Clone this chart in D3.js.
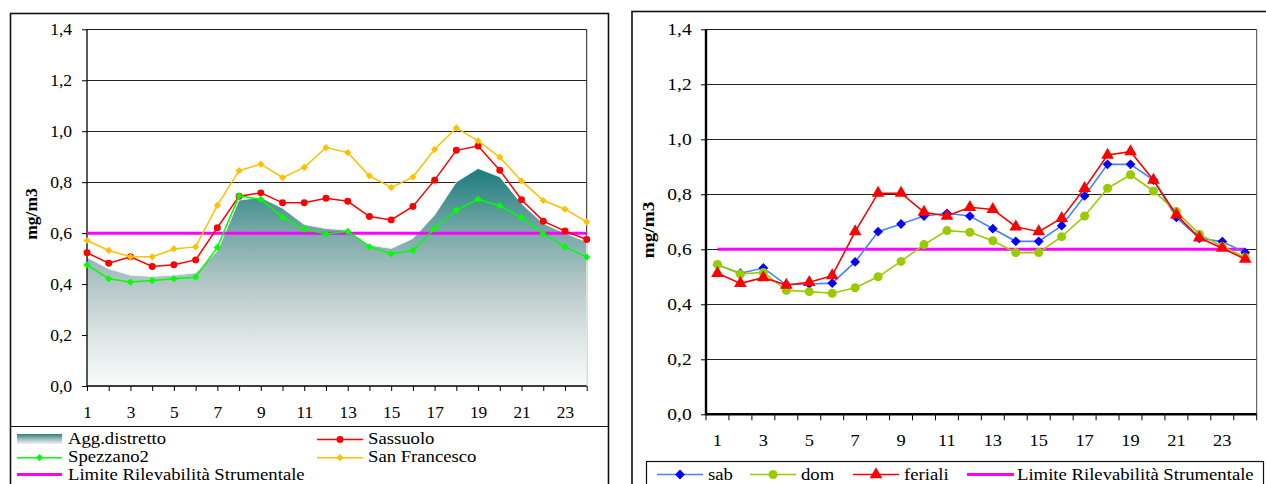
<!DOCTYPE html>
<html><head><meta charset="utf-8">
<script src="https://cdn.jsdelivr.net/npm/d3@7"></script>
<style>
html,body{margin:0;padding:0;background:#fff;}
svg{display:block;}
svg text{font-family:'Liberation Serif','Times New Roman',Times,serif !important;fill:#000;}
</style></head>
<body>
<svg id="c" width="1266" height="484"></svg>
<script>
// ---------- DATA ----------
const hours = [1,2,3,4,5,6,7,8,9,10,11,12,13,14,15,16,17,18,19,20,21,22,23,24];
const hourLabels = ["1","3","5","7","9","11","13","15","17","19","21","23"];
const yTicks = [0,0.2,0.4,0.6,0.8,1.0,1.2,1.4];
const yTickLabels = ["0,0","0,2","0,4","0,6","0,8","1,0","1,2","1,4"];
const limite = 0.6;

// left panel
const aggDistretto = [0.505,0.46,0.435,0.43,0.435,0.444,0.53,0.73,0.74,0.698,0.634,0.618,0.612,0.553,0.54,0.579,0.671,0.801,0.854,0.821,0.716,0.638,0.60,0.566];
const sassuolo = [0.523,0.482,0.507,0.469,0.476,0.495,0.621,0.745,0.758,0.719,0.719,0.737,0.725,0.665,0.652,0.705,0.808,0.925,0.942,0.847,0.731,0.647,0.608,0.575];
const spezzano2 = [0.475,0.421,0.408,0.414,0.421,0.427,0.544,0.746,0.733,0.663,0.616,0.597,0.607,0.546,0.519,0.532,0.617,0.690,0.733,0.707,0.661,0.597,0.546,0.506];
const sanFrancesco = [0.571,0.532,0.507,0.507,0.538,0.546,0.709,0.845,0.871,0.818,0.858,0.936,0.916,0.825,0.779,0.820,0.929,1.013,0.962,0.898,0.805,0.728,0.694,0.644];

// right panel
const sab = [0.543,0.513,0.532,0.471,0.474,0.477,0.554,0.664,0.692,0.721,0.731,0.721,0.675,0.629,0.629,0.686,0.794,0.909,0.909,0.852,0.716,0.640,0.628,0.588];
const dom = [0.545,0.510,0.516,0.451,0.446,0.440,0.460,0.500,0.556,0.617,0.668,0.662,0.631,0.588,0.588,0.646,0.721,0.822,0.871,0.812,0.737,0.655,0.610,0.571];
const feriali = [0.513,0.476,0.497,0.470,0.480,0.504,0.664,0.804,0.804,0.735,0.721,0.753,0.745,0.682,0.664,0.713,0.822,0.943,0.955,0.852,0.725,0.642,0.604,0.564];

const leftLegend = ["Agg.distretto","Sassuolo","Spezzano2","San Francesco","Limite Rilevabilità Strumentale"];
const rightLegend = ["sab","dom","feriali","Limite Rilevabilità Strumentale"];
const yTitle = "mg/m3";

// ---------- DRAW ----------
const svg = d3.select("#c");
const defs = svg.append("defs");
const FONT = "'Liberation Serif','Times New Roman',Times,serif";

function txt(parent, x, y, s, o) {
  o = o || {};
  const g = parent.append("g").attr("transform", `translate(${x},${y})` + (o.rot ? ` rotate(${o.rot})` : "") + ` scale(${o.sx||1.1},1)`);
  return g.append("text").attr("text-anchor", o.anchor || "start").attr("font-family", FONT)
    .style("font-size", (o.size||16) + "px").style("font-weight", o.bold ? "bold" : "normal").text(s);
}
function marker(shape, size) {
  if (shape === "diamond") return d3.symbol().type(d3.symbolSquare).size(size)();
  return d3.symbol().type(shape).size(size)();
}
function mRot(shape){ return shape === "diamond" ? " rotate(45)" : ""; }

// ===== LEFT PANEL =====
const L = {x0:87, x1:586.7, y0:386, y1:29.3};
svg.append("rect").attr("x",10.5).attr("y",13.5).attr("width",598).attr("height",520)
  .attr("fill","none").attr("stroke","#111").attr("stroke-width",1.6);
svg.append("line").attr("x1",10.5).attr("x2",608.5).attr("y1",426.5).attr("y2",426.5).attr("stroke","#111").attr("stroke-width",1.2);

const xL = d3.scalePoint().domain(hours).range([L.x0, L.x1]);
const yL = d3.scaleLinear().domain([0,1.4]).range([L.y0, L.y1]);
const gl = svg.append("g");

gl.selectAll(".gl").data(yTicks.filter(d=>d>0)).join("line")
  .attr("x1",L.x0).attr("x2",L.x1).attr("y1",d=>Math.round(yL(d))+0.5).attr("y2",d=>Math.round(yL(d))+0.5)
  .attr("stroke","#222").attr("stroke-width",1);
gl.append("line").attr("x1",L.x1).attr("x2",L.x1).attr("y1",L.y1).attr("y2",L.y0).attr("stroke","#222");

const gradA = defs.append("linearGradient").attr("id","aggGrad").attr("gradientUnits","userSpaceOnUse")
  .attr("x1",0).attr("x2",0).attr("y1",yL(0.86)).attr("y2",yL(0));
[[0,"#1a7b7b"],[0.3,"#78a9a9"],[0.53,"#b3c6c6"],[0.77,"#dce4e4"],[1,"#fbfcfc"]].forEach(s=>
  gradA.append("stop").attr("offset",s[0]).attr("stop-color",s[1]));
const gradLeg = defs.append("linearGradient").attr("id","aggLeg").attr("x1",0).attr("x2",0).attr("y1",0).attr("y2",1);
[[0,"#2f7e7e"],[0.5,"#9fbcbc"],[1,"#eef3f3"]].forEach(s=>gradLeg.append("stop").attr("offset",s[0]).attr("stop-color",s[1]));

const area = d3.area().x((d,i)=>xL(hours[i])).y0(yL(0)).y1(d=>yL(d));
gl.append("path").datum(aggDistretto).attr("d",area).attr("fill","url(#aggGrad)")
  .attr("stroke","#eef2f2").attr("stroke-width",1);

gl.append("line").attr("x1",L.x0).attr("x2",L.x0).attr("y1",L.y1).attr("y2",L.y0).attr("stroke","#000").attr("stroke-width",1.3);
gl.append("line").attr("x1",L.x0).attr("x2",L.x1).attr("y1",L.y0).attr("y2",L.y0).attr("stroke","#000").attr("stroke-width",1.3);
const yAxL = d3.axisLeft(yL).tickValues(yTicks).tickSize(5).tickFormat((d,i)=>yTickLabels[i]);
const ya = gl.append("g").attr("transform",`translate(${L.x0},0)`).call(yAxL).attr("font-family",null).attr("font-size",null);
ya.select(".domain").remove();
ya.selectAll("line").attr("stroke","#000");
ya.selectAll("text").attr("x",-13.5).attr("dy","0.33em").attr("transform","scale(1.1,1)")
  .attr("font-family",FONT).style("font-size","16px");
const xAxL = d3.axisBottom(xL).tickSize(5).tickFormat(d=>hourLabels.includes(String(d))?String(d):"");
const xa = gl.append("g").attr("transform",`translate(0,${L.y0})`).call(xAxL).attr("font-family",null).attr("font-size",null);
xa.select(".domain").remove();
xa.selectAll("line").attr("stroke","#000");
xa.selectAll("text").attr("y",32).attr("dy",0).attr("transform","scale(1.08,1)")
  .attr("font-family",FONT).style("font-size","16px");

gl.append("line").attr("x1",L.x0).attr("x2",L.x1).attr("y1",yL(limite)).attr("y2",yL(limite))
  .attr("stroke","#ff00ff").attr("stroke-width",3);

const lineL = d3.line().x((d,i)=>xL(hours[i])).y(d=>yL(d));
function seriesL(data, color, shape, size) {
  gl.append("path").datum(data).attr("d",lineL).attr("fill","none").attr("stroke",color).attr("stroke-width",1.5);
  gl.selectAll(null).data(data).join("path")
    .attr("transform",(d,i)=>`translate(${xL(hours[i])},${yL(d)})${mRot(shape)}`)
    .attr("d",marker(shape,size)).attr("fill",color);
}
seriesL(sassuolo,"#ff0000",d3.symbolCircle,38);
seriesL(spezzano2,"#00ff00","diamond",26);
seriesL(sanFrancesco,"#ffc000","diamond",26);

txt(gl, 37, 214, yTitle, {rot:-90, anchor:"middle", bold:true, size:16, sx:1.1});

const legL = svg.append("g");
legL.append("rect").attr("x",17).attr("y",434).attr("width",45).attr("height",10).attr("fill","url(#aggLeg)");
txt(legL, 68, 444, leftLegend[0], {size:17});
function legLine(g, x1, x2, y, color, shape, size, w) {
  g.append("line").attr("x1",x1).attr("x2",x2).attr("y1",y).attr("y2",y).attr("stroke",color).attr("stroke-width",w||1.5);
  if (shape) g.append("path").attr("transform",`translate(${(x1+x2)/2},${y})${mRot(shape)}`).attr("d",marker(shape,size)).attr("fill",color);
}
legLine(legL,317,363,439.5,"#ff0000",d3.symbolCircle,38);
txt(legL, 368, 444, leftLegend[1], {size:17});
legLine(legL,17,62,457.7,"#00ff00","diamond",26);
txt(legL, 68, 462, leftLegend[2], {size:17});
legLine(legL,317,363,457.7,"#ffc000","diamond",26);
txt(legL, 368, 462, leftLegend[3], {size:17});
legLine(legL,17,62,474.5,"#ff00ff",null,0,3);
txt(legL, 68, 479.5, leftLegend[4], {size:17});

// ===== RIGHT PANEL =====
const R = {x0:706, x1:1256.7, y0:414.3, y1:29.3};
svg.append("rect").attr("x",632).attr("y",11.5).attr("width",700).attr("height",520)
  .attr("fill","none").attr("stroke","#111").attr("stroke-width",1.6);
const xR = d3.scaleBand().domain(hours).range([R.x0, R.x1]);
const yR = d3.scaleLinear().domain([0,1.4]).range([R.y0, R.y1]);
const gr = svg.append("g");
gr.selectAll(".gr").data(yTicks.filter(d=>d>0)).join("line")
  .attr("x1",R.x0).attr("x2",R.x1).attr("y1",d=>Math.round(yR(d))+0.5).attr("y2",d=>Math.round(yR(d))+0.5)
  .attr("stroke","#222").attr("stroke-width",1);
gr.append("line").attr("x1",R.x1).attr("x2",R.x1).attr("y1",R.y1).attr("y2",R.y0).attr("stroke","#444");
gr.append("line").attr("x1",R.x0).attr("x2",R.x0).attr("y1",R.y1).attr("y2",R.y0+1).attr("stroke","#000").attr("stroke-width",2.4);
gr.append("line").attr("x1",R.x0).attr("x2",R.x1).attr("y1",R.y0).attr("y2",R.y0).attr("stroke","#000").attr("stroke-width",2.4);
const yAxR = d3.axisLeft(yR).tickValues(yTicks).tickSize(5).tickFormat((d,i)=>yTickLabels[i]);
const yb = gr.append("g").attr("transform",`translate(${R.x0},0)`).call(yAxR).attr("font-family",null).attr("font-size",null);
yb.select(".domain").remove();
yb.selectAll("line").attr("stroke","#000");
yb.selectAll("text").attr("x",-14.3/1.22).attr("dy","0.33em").attr("transform","scale(1.22,1)")
  .attr("font-family",FONT).style("font-size","16px");
const bounds = hours.map(h=>xR(h)).concat([R.x1]);
gr.selectAll(".xt").data(bounds).join("line").attr("x1",d=>d).attr("x2",d=>d)
  .attr("y1",R.y0).attr("y2",R.y0+6).attr("stroke","#000");
gr.selectAll(".xl").data(hours.filter(h=>hourLabels.includes(String(h)))).join("text")
  .attr("text-anchor","middle").attr("transform",d=>`translate(${xR(d)+xR.bandwidth()/2},${R.y0+32}) scale(1.15,1)`)
  .attr("font-family",FONT).style("font-size","16px").text(d=>String(d));

const cx = h=>xR(h)+xR.bandwidth()/2;
gr.append("line").attr("x1",cx(1)).attr("x2",cx(24)).attr("y1",yR(limite)).attr("y2",yR(limite))
  .attr("stroke","#ff00ff").attr("stroke-width",3);
const lineR = d3.line().x((d,i)=>cx(hours[i])).y(d=>yR(d));
function seriesR(data, lc, mc, shape, size) {
  gr.append("path").datum(data).attr("d",lineR).attr("fill","none").attr("stroke",lc).attr("stroke-width",1.6);
  gr.selectAll(null).data(data).join("path")
    .attr("transform",(d,i)=>`translate(${cx(hours[i])},${yR(d)})${mRot(shape)}`)
    .attr("d",marker(shape,size)).attr("fill",mc);
}
seriesR(sab,"#4a80ff","#0000ff","diamond",48);
seriesR(dom,"#99cc00","#99cc00",d3.symbolCircle,64);
seriesR(feriali,"#ff0000","#ff0000",d3.symbolTriangle,70);

txt(gr, 654, 230, yTitle, {rot:-90, anchor:"middle", bold:true, size:16, sx:1.2});

const legR = svg.append("g");
legR.append("rect").attr("x",646.5).attr("y",461.5).attr("width",617).attr("height",40).attr("fill","#fff").attr("stroke","#111").attr("stroke-width",1.2);
function legLineR(x1,x2,y,lc,mc,shape,size,w){
  legR.append("line").attr("x1",x1).attr("x2",x2).attr("y1",y).attr("y2",y).attr("stroke",lc).attr("stroke-width",w||1.6);
  if (shape) legR.append("path").attr("transform",`translate(${(x1+x2)/2},${y})${mRot(shape)}`).attr("d",marker(shape,size)).attr("fill",mc);
}
legLineR(657,703,474.5,"#4a80ff","#0000ff","diamond",48);
txt(legR, 708, 480, rightLegend[0], {size:17});
legLineR(750,796,474.5,"#99cc00","#99cc00",d3.symbolCircle,64);
txt(legR, 801, 480, rightLegend[1], {size:17});
legLineR(853,899,474.5,"#ff0000","#ff0000",d3.symbolTriangle,70);
txt(legR, 904, 480, rightLegend[2], {size:17});
legLineR(967,1014,474.5,"#ff00ff","#ff00ff",null,0,3);
txt(legR, 1017, 480, rightLegend[3], {size:17});
</script>
</body></html>
